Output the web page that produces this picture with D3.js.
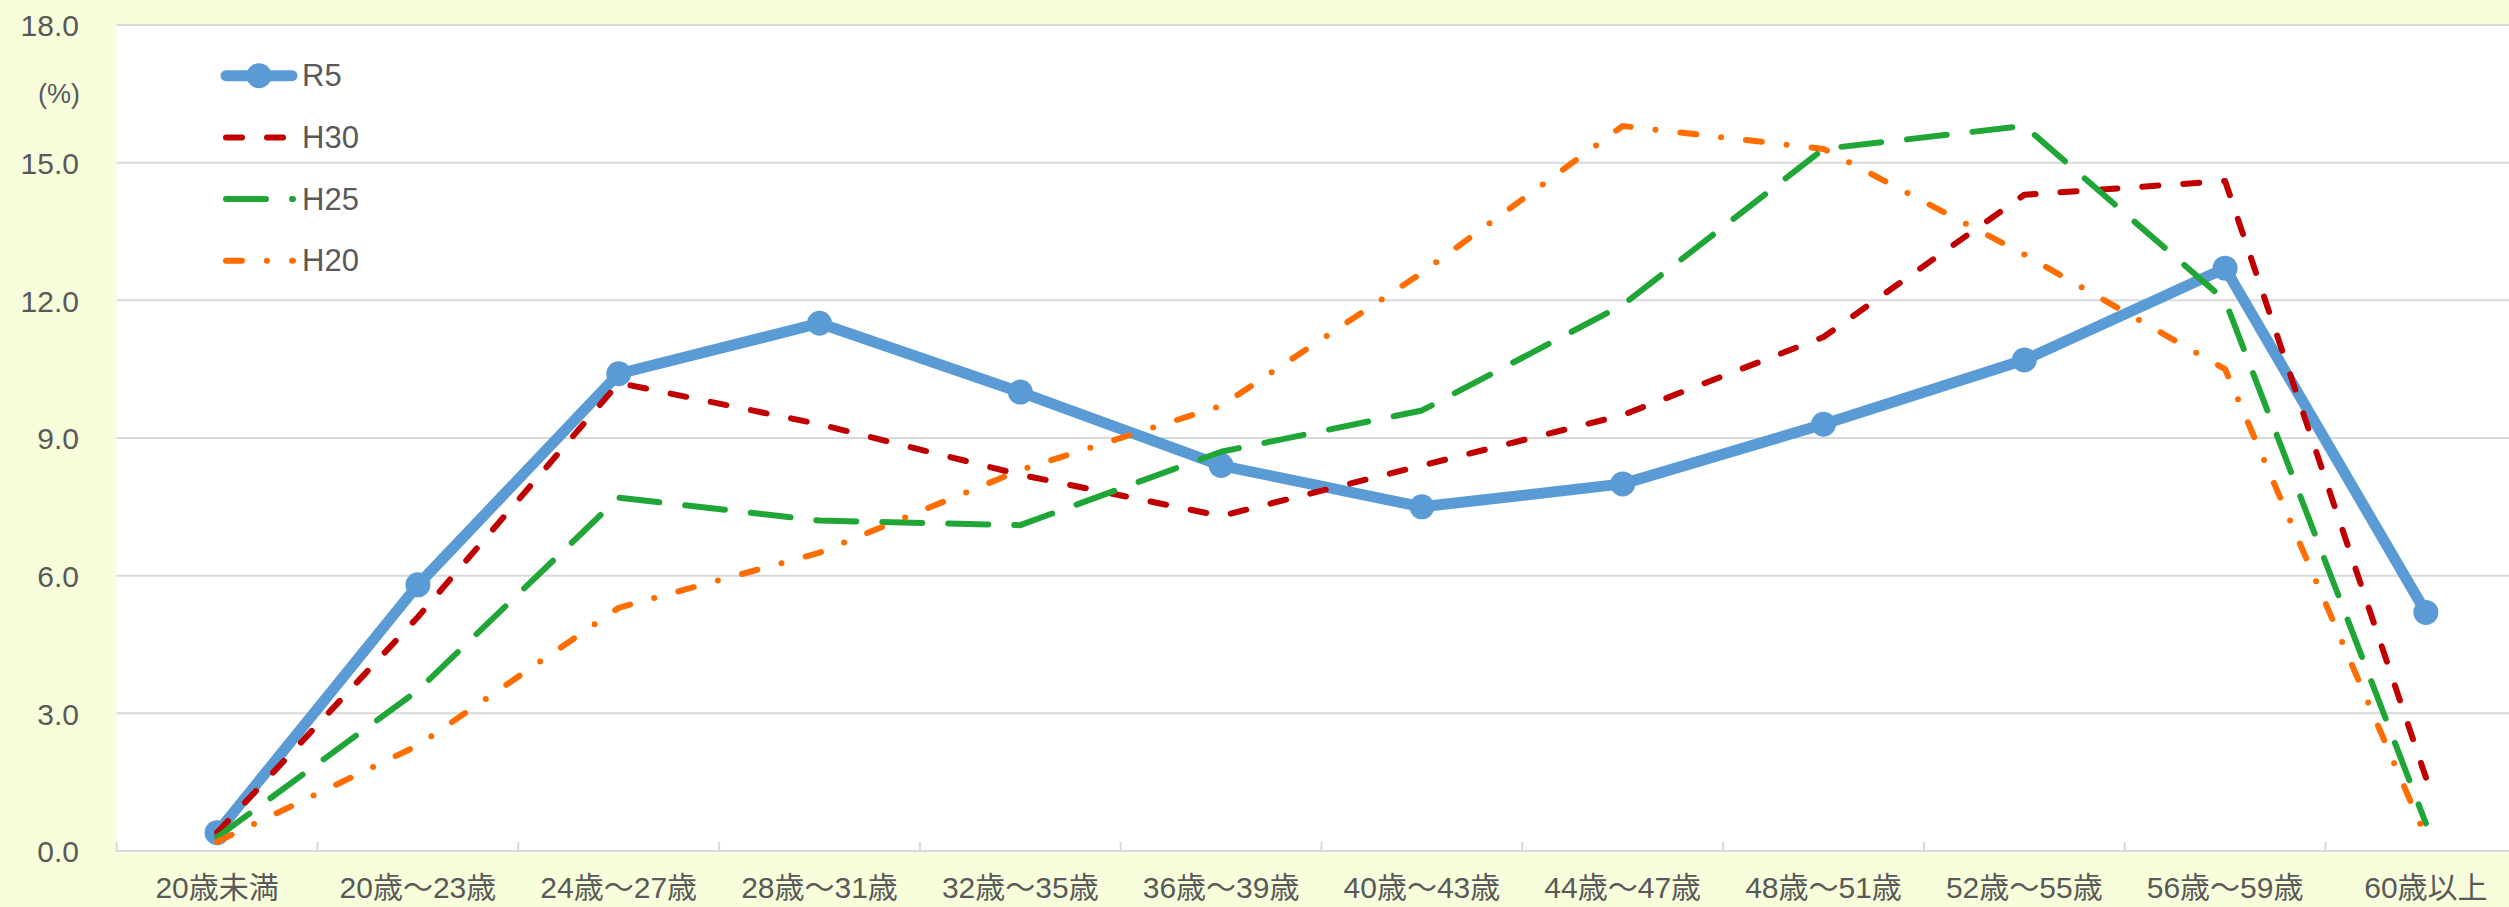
<!DOCTYPE html>
<html>
<head>
<meta charset="utf-8">
<script src="https://cdn.jsdelivr.net/npm/d3@7"></script>
<style>
  html, body { margin: 0; padding: 0; background: #F8FEDB; }
  svg { display: block; }
  text { font-family: "Liberation Sans", Arial, "Noto Sans CJK JP", sans-serif; fill: #595959; }
</style>
</head>
<body>
<svg id="chart" width="2509" height="907"></svg>
<script>
const categories = ["20歳未満","20歳〜23歳","24歳〜27歳","28歳〜31歳","32歳〜35歳","36歳〜39歳","40歳〜43歳","44歳〜47歳","48歳〜51歳","52歳〜55歳","56歳〜59歳","60歳以上"];
const R5  = [0.4, 5.8, 10.4, 11.5, 10.0, 8.4, 7.5, 8.0, 9.3, 10.7, 12.7, 5.2];
const H30 = [0.4, 5.1, 10.2, 9.3, 8.2, 7.3, 8.4, 9.5, 11.2, 14.3, 14.6, 1.6];
const H25 = [0.3, 3.5, 7.7, 7.2, 7.1, 8.7, 9.6, 11.9, 15.3, 15.8, 12.0, 0.6];
const H20 = [0.2, 2.3, 5.3, 6.5, 8.3, 9.7, 12.6, 15.8, 15.3, 13.0, 10.5, 0.3];
const yTicks = [0, 3, 6, 9, 12, 15, 18];
const seriesNames = ["R5", "H30", "H25", "H20"];

const W = 2509, H = 907;
const plotLeft = 116.7, bandW = 200.8, plotTop = 25, plotBottom = 851;
const svg = d3.select("#chart");

const x = d3.scaleBand().domain(categories).range([plotLeft, plotLeft + bandW * categories.length]).padding(0);
const y = d3.scaleLinear().domain([0, 18]).range([plotBottom, plotTop]);

// plot area
svg.append("rect").attr("x", plotLeft).attr("y", plotTop)
  .attr("width", W - plotLeft).attr("height", plotBottom - plotTop).attr("fill", "#FFFFFF");

// gridlines
svg.append("g").selectAll("line").data(yTicks.filter(d => d > 0)).join("line")
  .attr("x1", plotLeft).attr("x2", W)
  .attr("y1", d => y(d)).attr("y2", d => y(d))
  .attr("stroke", "#D9D9D9").attr("stroke-width", 2);

// y axis labels
const yAxis = d3.axisLeft(y).tickValues(yTicks).tickFormat(d3.format(".1f")).tickSize(0).tickPadding(0);
const gy = svg.append("g").attr("transform", `translate(79,0)`).call(yAxis);
gy.select(".domain").remove();
gy.selectAll("text").attr("font-size", 30).attr("fill", "#595959")
  .attr("font-family", '"Liberation Sans", Arial, sans-serif').attr("dy", "0.36em");

svg.append("text").attr("x", 80).attr("y", 103).attr("text-anchor", "end")
  .attr("font-size", 27).text("(%)");

// x axis
svg.append("line").attr("x1", plotLeft).attr("x2", W).attr("y1", plotBottom).attr("y2", plotBottom)
  .attr("stroke", "#D9D9D9").attr("stroke-width", 2);
const boundaries = categories.map(c => x(c));
svg.append("g").selectAll("line").data(boundaries).join("line")
  .attr("x1", d => d).attr("x2", d => d).attr("y1", plotBottom - 9).attr("y2", plotBottom)
  .attr("stroke", "#D9D9D9").attr("stroke-width", 2);
const xAxis = d3.axisBottom(x).tickSize(0).tickPadding(0);
const gx = svg.append("g").attr("transform", `translate(0,${plotBottom})`).call(xAxis);
gx.select(".domain").remove();
gx.selectAll("text").attr("font-size", 30).attr("fill", "#595959")
  .attr("font-family", '"Liberation Sans", Arial, "Noto Sans CJK JP", sans-serif')
  .attr("y", 47).attr("dy", 0);

const styles = {
  R5:  { data: R5,  color: "#5B9BD5", width: 11, dash: null },
  H30: { data: H30, color: "#C00000", width: 6, dash: "16 25" },
  H25: { data: H25, color: "#1FA637", width: 6, dash: "40 26" },
  H20: { data: H20, color: "#FF6D00", width: 6, dash: "16 25 0 25" }
};

const line = d3.line().x((d, i) => x(categories[i]) + x.bandwidth() / 2).y(d => y(d));

seriesNames.forEach(name => {
  const s = styles[name];
  svg.append("path").datum(s.data)
    .attr("d", line).attr("fill", "none")
    .attr("stroke", s.color).attr("stroke-width", s.width)
    .attr("stroke-linecap", "round").attr("stroke-linejoin", "round")
    .attr("stroke-dasharray", s.dash);
  if (name === "R5") {
    svg.append("g").selectAll("circle").data(s.data).join("circle")
      .attr("cx", (d, i) => x(categories[i]) + x.bandwidth() / 2)
      .attr("cy", d => y(d)).attr("r", 12.5).attr("fill", s.color);
  }
});

// legend
const legend = svg.append("g");
seriesNames.forEach((name, i) => {
  const s = styles[name];
  const ly = 75.7 + i * 61.7;
  if (name === "R5") {
    legend.append("line").attr("x1", 226).attr("x2", 292).attr("y1", ly).attr("y2", ly)
      .attr("stroke", s.color).attr("stroke-width", 11).attr("stroke-linecap", "round");
    legend.append("circle").attr("cx", 259).attr("cy", ly).attr("r", 12.5).attr("fill", s.color);
  } else {
    legend.append("line").attr("x1", 226).attr("x2", 293).attr("y1", ly).attr("y2", ly)
      .attr("stroke", s.color).attr("stroke-width", 6).attr("stroke-linecap", "round")
      .attr("stroke-dasharray", s.dash);
  }
  legend.append("text").attr("x", 302).attr("y", ly + 10.5).attr("font-size", 31).text(name);
});
</script>
</body>
</html>
